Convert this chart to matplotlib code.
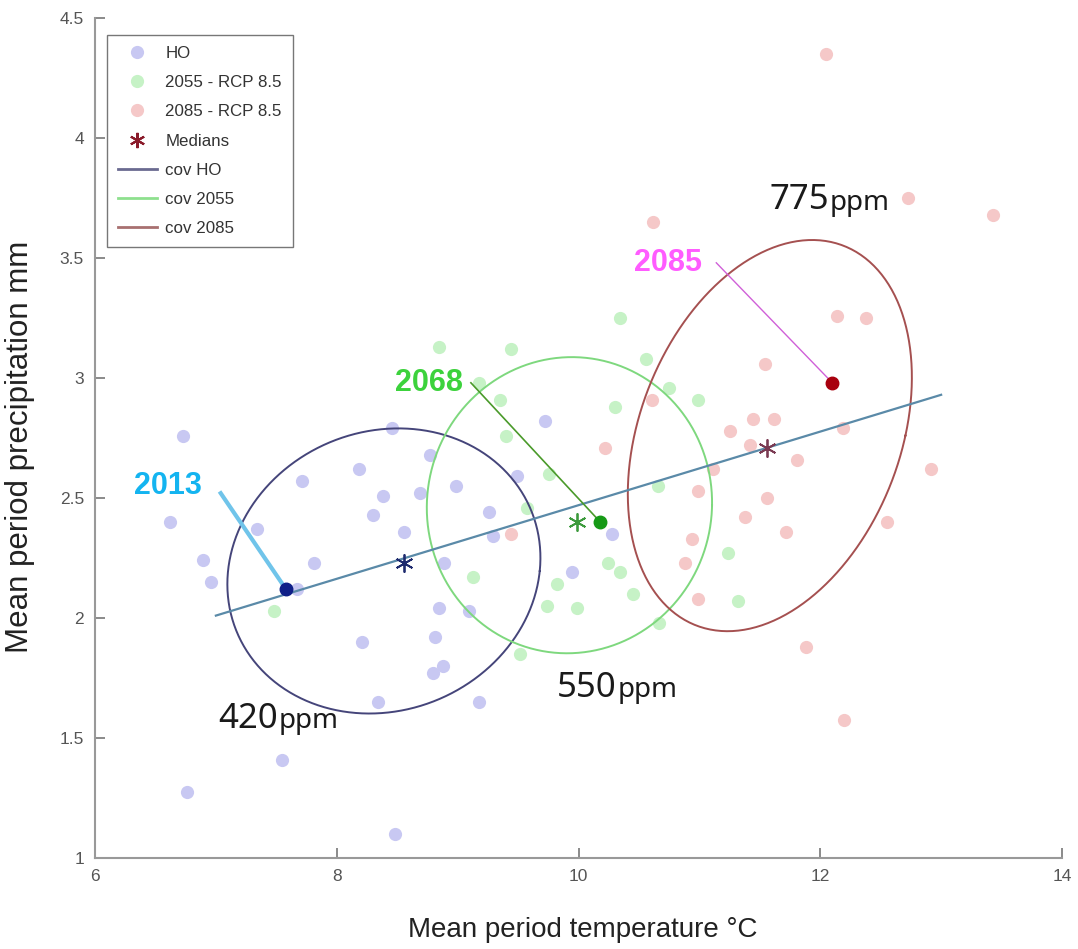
import numpy as np
import matplotlib
matplotlib.use("Agg")
from matplotlib import pyplot as plt
from matplotlib.lines import Line2D

# scatter data
ho_x = [6.73, 6.62, 6.89, 6.96, 7.34, 7.71, 8.18, 8.38, 8.30, 8.56, 8.69, 8.77, 8.46,
        7.81, 7.67, 8.21, 8.85, 8.81, 8.80, 8.88, 9.09, 8.34, 9.18, 7.55, 6.76, 8.48,
        9.72, 8.99, 9.26, 9.29, 9.49, 8.89, 9.95, 10.28]
ho_y = [2.76, 2.40, 2.24, 2.15, 2.37, 2.57, 2.62, 2.51, 2.43, 2.36, 2.52, 2.68, 2.79,
        2.23, 2.12, 1.90, 2.04, 1.92, 1.77, 1.80, 2.03, 1.65, 1.65, 1.41, 1.275, 1.10,
        2.82, 2.55, 2.44, 2.34, 2.59, 2.23, 2.19, 2.35]

f55_x = [8.85, 9.44, 10.34, 9.18, 9.35, 9.40, 10.30, 10.56, 10.75, 10.99, 9.76, 9.57,
         9.13, 9.82, 10.24, 10.34, 10.45, 9.74, 9.99, 10.67, 9.52, 10.66, 11.24, 11.32, 7.48]
f55_y = [3.13, 3.12, 3.25, 2.98, 2.91, 2.76, 2.88, 3.08, 2.96, 2.91, 2.60, 2.46,
         2.17, 2.14, 2.23, 2.19, 2.10, 2.05, 2.04, 1.98, 1.85, 2.55, 2.27, 2.07, 2.03]

f85_x = [12.05, 12.73, 13.43, 10.62, 12.14, 12.38, 11.54, 10.61, 10.22, 11.25, 11.44,
         11.62, 11.42, 12.19, 11.81, 12.92, 11.11, 10.99, 11.56, 11.38, 11.72, 12.55,
         10.94, 10.88, 10.99, 11.88, 12.20, 9.44]
f85_y = [4.35, 3.75, 3.68, 3.65, 3.26, 3.25, 3.06, 2.91, 2.71, 2.78, 2.83,
         2.83, 2.72, 2.79, 2.66, 2.62, 2.62, 2.53, 2.50, 2.42, 2.36, 2.40,
         2.33, 2.23, 2.08, 1.88, 1.575, 2.35]

med_x = [8.56, 9.99, 11.56]
med_y = [2.23, 2.40, 2.71]

# covariance ellipses: centre, x half-range, y half-range, skew
ell_cx = [8.39, 9.925, 11.583]
ell_cy = [2.196, 2.47, 2.76]
ell_ax = [1.295, 1.18, 1.175]
ell_by = [0.594, 0.617, 0.815]
ell_skew = [0.12, 0.02, 0.35]

trend_x = [7.0, 13.0]
trend_y = [2.01, 2.93]

yr_lbl = ['2013', '2068', '2085']
yr_x = [7.58, 10.18, 12.10]
yr_y = [2.12, 2.40, 2.98]
yr_txt_x = [6.60, 8.76, 10.74]
yr_txt_y = [2.55, 2.98, 3.48]
yr_line_x = [7.04, 9.11, 11.14]
yr_line_y = [2.52, 2.98, 3.48]

ppm_num = ['420', '550', '775']
ppm_x = [7.02, 9.82, 11.58]
ppm_unit_x = [7.52, 10.32, 12.08]
ppm_y = [1.58, 1.71, 3.74]

pt_cols = ['#c8c8f2', '#c6f2c6', '#f5c8c8']
med_cols = ['#1e2a6e', '#3c9a3c', '#7a3a52']
ell_cols = ['#45457a', '#7ed87e', '#a55050']
yr_dot_cols = ['#0f1f88', '#169a16', '#a8000e']
yr_txt_cols = ['#14b4f0', '#3cd23c', '#ff5cff']
yr_line_cols = ['#70c4ea', '#4a9a2a', '#d060d8']
yr_line_w = [3.0, 1.2, 1.0]

plt.rcParams['font.family'] = ['Liberation Sans', 'DejaVu Sans']

fig = plt.figure(figsize=(10.78, 9.49), dpi=100)
ax = fig.add_axes([95 / 1078, 91 / 949, 967 / 1078, 840 / 949])

ms = 9.5
ax.plot(ho_x, ho_y, 'o', color=pt_cols[0], ms=ms, mec='none', zorder=2)
ax.plot(f55_x, f55_y, 'o', color=pt_cols[1], ms=ms, mec='none', zorder=2)
ax.plot(f85_x, f85_y, 'o', color=pt_cols[2], ms=ms, mec='none', zorder=2)

t = np.linspace(0, 2 * np.pi, 300)
for i in range(3):
    p = np.sqrt(ell_ax[i] ** 2 - ell_skew[i] ** 2)
    ex = ell_cx[i] + p * np.cos(t) + ell_skew[i] * np.sin(t)
    ey = ell_cy[i] + ell_by[i] * np.sin(t)
    ax.plot(ex, ey, color=ell_cols[i], lw=1.4, zorder=3)

ax.plot(trend_x, trend_y, color='#5a8aa8', lw=1.6, zorder=4)

for i in range(3):
    ax.plot(med_x[i], med_y[i], marker=(6, 2, 0), color=med_cols[i], ms=13, mew=1.3,
            ls='none', zorder=5)

for i in range(3):
    ax.plot([yr_line_x[i], yr_x[i]], [yr_line_y[i], yr_y[i]], color=yr_line_cols[i],
            lw=yr_line_w[i], zorder=6)
    ax.plot(yr_x[i], yr_y[i], 'o', color=yr_dot_cols[i], ms=9, zorder=7)
    ax.text(yr_txt_x[i], yr_txt_y[i], yr_lbl[i], color=yr_txt_cols[i], fontsize=22,
            fontweight='bold', ha='center', va='center')

for i in range(3):
    ax.text(ppm_x[i], ppm_y[i], ppm_num[i], fontsize=25, color='#1a1a1a', ha='left',
            va='center', family=['Noto Sans', 'DejaVu Sans'])
    ax.text(ppm_unit_x[i], ppm_y[i] - 0.01, 'ppm', fontsize=20, color='#1a1a1a', ha='left',
            va='center', family=['Noto Sans', 'DejaVu Sans'])

ax.set_xlim(6, 14)
ax.set_ylim(1, 4.5)
ax.set_xticks([6, 8, 10, 12, 14])
ax.set_yticks([1, 1.5, 2, 2.5, 3, 3.5, 4, 4.5])
ax.set_yticklabels(['1', '1.5', '2', '2.5', '3', '3.5', '4', '4.5'])
ax.tick_params(direction='in', length=7, width=1.2, color='#777777', labelcolor='#555555',
               labelsize=12.5, pad=8)
for s in ['top', 'right']:
    ax.spines[s].set_visible(False)
for s in ['left', 'bottom']:
    ax.spines[s].set_color('#999999')
    ax.spines[s].set_linewidth(1.5)

ax.set_xlabel('Mean period temperature °C', fontsize=20, color='#222222')
ax.set_ylabel('Mean period precipitation mm', fontsize=22.5, color='#222222')
ax.xaxis.set_label_coords(0.504, -0.07)
ax.yaxis.set_label_coords(-0.062, 0.49)

handles = [
    Line2D([], [], ls='none', marker='o', color=pt_cols[0], ms=ms, mec='none'),
    Line2D([], [], ls='none', marker='o', color=pt_cols[1], ms=ms, mec='none'),
    Line2D([], [], ls='none', marker='o', color=pt_cols[2], ms=ms, mec='none'),
    Line2D([], [], ls='none', marker=(6, 2, 0), color='#8a1a2a', ms=11, mew=1.5),
    Line2D([], [], color='#6a6a90', lw=2),
    Line2D([], [], color='#8ee08e', lw=2),
    Line2D([], [], color='#a87070', lw=2),
]
labels = ['HO', '2055 - RCP 8.5', '2085 - RCP 8.5', 'Medians', 'cov HO', 'cov 2055', 'cov 2085']
leg = ax.legend(handles, labels, loc='upper left', bbox_to_anchor=(0.0124, 0.98),
                fontsize=12.2, frameon=True, fancybox=False, edgecolor='#555555',
                handlelength=2.3, labelspacing=0.84, borderpad=0.65, handletextpad=0.5,
                borderaxespad=0)
leg.get_frame().set_linewidth(1.0)
for txt in leg.get_texts():
    txt.set_color('#333333')

fig.savefig('out.png', dpi=100, facecolor='white')
